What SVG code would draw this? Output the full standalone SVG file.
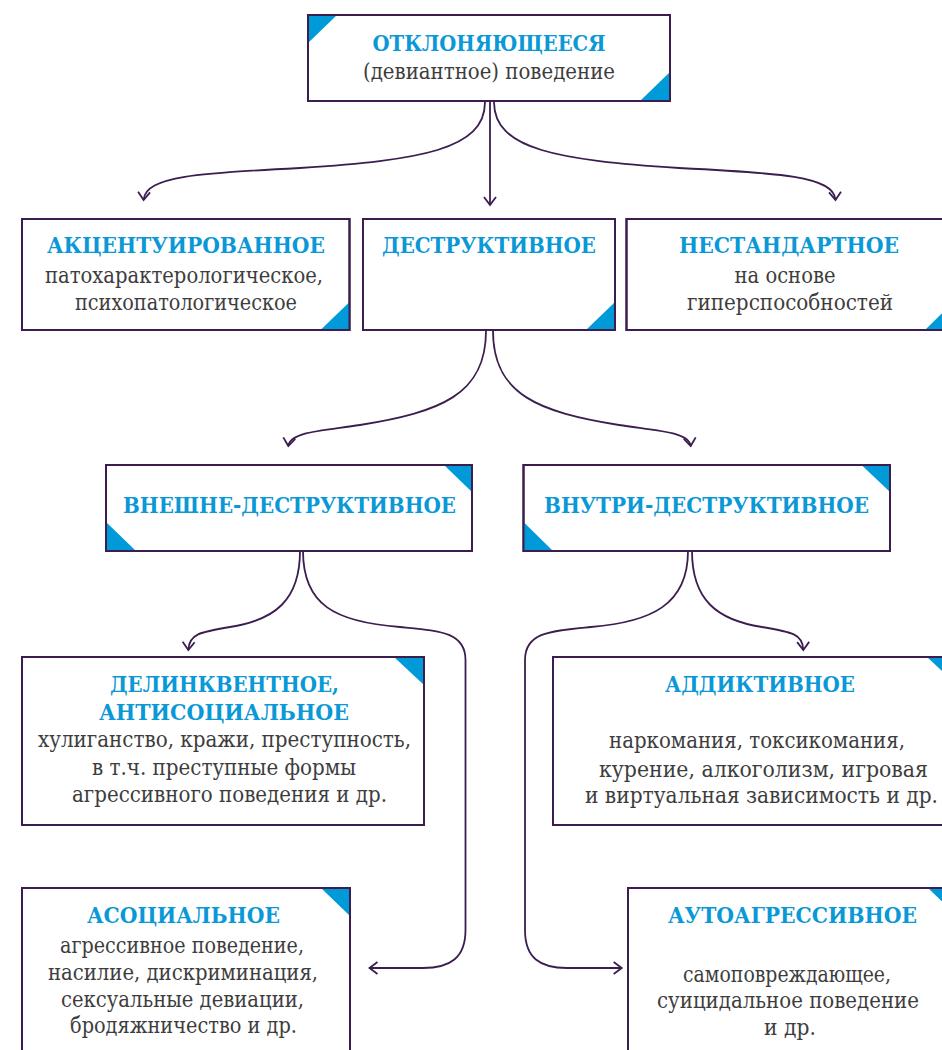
<svg xmlns="http://www.w3.org/2000/svg" width="942" height="1050" viewBox="0 0 942 1050">
<style>
.box{fill:#ffffff;stroke:#3b1e4f;stroke-width:2}
.tri{fill:#009ad8}
.h{font-family:'DejaVu Serif Condensed','DejaVu Serif','Liberation Serif',serif;font-stretch:condensed;font-weight:bold;font-size:21.5px;fill:#0a98d6;text-anchor:middle}
.t{font-family:'DejaVu Serif Condensed','DejaVu Serif','Liberation Serif',serif;font-stretch:condensed;font-size:22.5px;fill:#3d3d3d;text-anchor:middle}
.c{fill:none;stroke:#3b1e4f;stroke-width:1.8}
</style>
<defs>
<marker id="ah" markerUnits="userSpaceOnUse" viewBox="0 0 12 14" markerWidth="12" markerHeight="14" refX="9.5" refY="7" orient="auto">
<path d="M1.5,1 L9.5,7 L1.5,13" fill="none" stroke="#3b1e4f" stroke-width="1.8"/>
</marker>
</defs>
<rect x="0" y="0" width="942" height="1050" fill="#ffffff"/>

<g id="connectors">
<path class="c" marker-end="url(#ah)" d="M485,102 C485,150 420,160 300,168 C200,173 145,176 143.6,200"/>
<path class="c" marker-end="url(#ah)" d="M490,102 L490,205"/>
<path class="c" marker-end="url(#ah)" d="M494,102 C494,150 559,160 679,168 C779,173 834,176 835.5,200"/>
<path class="c" marker-end="url(#ah)" d="M486,331 C486,395 440,412 360,425 C320,431 290,432 288.3,446"/>
<path class="c" marker-end="url(#ah)" d="M493,331 C493,395 539,412 619,425 C659,431 689,432 690.7,446"/>
<path class="c" marker-end="url(#ah)" d="M300,551 C300,600 275,620 230,627 C200,632 189,634 188.3,650"/>
<path class="c" marker-end="url(#ah)" d="M303,551 C303,605 335,622 400,627 C440,631 465.5,632 465.5,660 L465.5,930 C465.5,958 450,968 423,968 L369.5,968"/>
<path class="c" marker-end="url(#ah)" d="M692,551 C692,600 717,620 762,627 C792,632 803,634 803.3,650"/>
<path class="c" marker-end="url(#ah)" d="M688,551 C688,605 651,622 591,627 C551,631 525,632 525,660 L525,930 C525,958 540,968 567,968 L621.7,968"/>
</g>

<g id="node-deviant">
<rect class="box" x="308" y="15" width="362" height="86"/>
<polygon class="tri" points="308,15 337,15 308,43"/>
<polygon class="tri" points="670,72 670,101 640,101"/>
<rect x="308" y="15" width="362" height="86" fill="none" stroke="#3b1e4f" stroke-width="2"/>
<text class="h" x="489" y="51" textLength="233" lengthAdjust="spacingAndGlyphs">ОТКЛОНЯЮЩЕЕСЯ</text>
<text class="t" x="489" y="79" textLength="252" lengthAdjust="spacingAndGlyphs">(девиантное) поведение</text>
</g>

<g id="node-accent">
<rect class="box" x="22" y="219" width="327.5" height="111"/>
<polygon class="tri" points="349.5,302 349.5,330 320.5,330"/>
<rect x="22" y="219" width="327.5" height="111" fill="none" stroke="#3b1e4f" stroke-width="2"/>
<text class="h" x="186" y="253" textLength="278" lengthAdjust="spacingAndGlyphs">АКЦЕНТУИРОВАННОЕ</text>
<text class="t" x="184" y="283" textLength="278" lengthAdjust="spacingAndGlyphs">патохарактерологическое,</text>
<text class="t" x="186" y="310" textLength="222" lengthAdjust="spacingAndGlyphs">психопатологическое</text>
</g>

<g id="node-destr">
<rect class="box" x="363" y="219" width="252" height="111"/>
<polygon class="tri" points="615,302 615,330 586,330"/>
<rect x="363" y="219" width="252" height="111" fill="none" stroke="#3b1e4f" stroke-width="2"/>
<text class="h" x="489" y="253" textLength="214" lengthAdjust="spacingAndGlyphs">ДЕСТРУКТИВНОЕ</text>
</g>

<g id="node-nonstd">
<rect class="box" x="626.5" y="219" width="327" height="111"/>
<polygon class="tri" points="953.5,302 953.5,330 925,330"/>
<rect x="626.5" y="219" width="327" height="111" fill="none" stroke="#3b1e4f" stroke-width="2"/>
<text class="h" x="789" y="253" textLength="220" lengthAdjust="spacingAndGlyphs">НЕСТАНДАРТНОЕ</text>
<text class="t" x="785" y="283" textLength="101" lengthAdjust="spacingAndGlyphs">на основе</text>
<text class="t" x="790" y="310" textLength="206" lengthAdjust="spacingAndGlyphs">гиперспособностей</text>
</g>

<g id="node-ext">
<rect class="box" x="106" y="465" width="366" height="86"/>
<polygon class="tri" points="444,465 472,465 472,492"/>
<polygon class="tri" points="106,522 106,551 136,551"/>
<rect x="106" y="465" width="366" height="86" fill="none" stroke="#3b1e4f" stroke-width="2"/>
<text class="h" x="289.5" y="513" textLength="333" lengthAdjust="spacingAndGlyphs">ВНЕШНЕ-ДЕСТРУКТИВНОЕ</text>
</g>

<g id="node-int">
<rect class="box" x="523.5" y="465" width="366.5" height="86"/>
<polygon class="tri" points="861.5,465 890,465 890,492"/>
<polygon class="tri" points="523.5,522 523.5,551 553,551"/>
<rect x="523.5" y="465" width="366.5" height="86" fill="none" stroke="#3b1e4f" stroke-width="2"/>
<text class="h" x="706.5" y="513" textLength="325" lengthAdjust="spacingAndGlyphs">ВНУТРИ-ДЕСТРУКТИВНОЕ</text>
</g>

<g id="node-delinq">
<rect class="box" x="22" y="657" width="402" height="168"/>
<polygon class="tri" points="394,657 424,657 424,685"/>
<rect x="22" y="657" width="402" height="168" fill="none" stroke="#3b1e4f" stroke-width="2"/>
<text class="h" x="224.5" y="692" textLength="229" lengthAdjust="spacingAndGlyphs">ДЕЛИНКВЕНТНОЕ,</text>
<text class="h" x="224" y="720" textLength="250" lengthAdjust="spacingAndGlyphs">АНТИСОЦИАЛЬНОЕ</text>
<text class="t" x="224.5" y="747" textLength="373" lengthAdjust="spacingAndGlyphs">хулиганство, кражи, преступность,</text>
<text class="t" x="224" y="775" textLength="264" lengthAdjust="spacingAndGlyphs">в т.ч. преступные формы</text>
<text class="t" x="229.5" y="802" textLength="315" lengthAdjust="spacingAndGlyphs">агрессивного поведения и др.</text>
</g>

<g id="node-addict">
<rect class="box" x="553" y="657" width="404" height="168"/>
<polygon class="tri" points="927,657 957,657 957,685"/>
<rect x="553" y="657" width="404" height="168" fill="none" stroke="#3b1e4f" stroke-width="2"/>
<text class="h" x="760" y="692" textLength="190" lengthAdjust="spacingAndGlyphs">АДДИКТИВНОЕ</text>
<text class="t" x="757" y="748" textLength="296" lengthAdjust="spacingAndGlyphs">наркомания, токсикомания,</text>
<text class="t" x="763.5" y="777" textLength="329" lengthAdjust="spacingAndGlyphs">курение, алкоголизм, игровая</text>
<text class="t" x="761.5" y="803" textLength="353" lengthAdjust="spacingAndGlyphs">и виртуальная зависимость и др.</text>
</g>

<g id="node-asocial">
<rect class="box" x="22" y="888" width="328" height="180"/>
<polygon class="tri" points="321,888 350,888 350,916"/>
<rect x="22" y="888" width="328" height="180" fill="none" stroke="#3b1e4f" stroke-width="2"/>
<text class="h" x="183.5" y="923" textLength="193" lengthAdjust="spacingAndGlyphs">АСОЦИАЛЬНОЕ</text>
<text class="t" x="182" y="953" textLength="244" lengthAdjust="spacingAndGlyphs">агрессивное поведение,</text>
<text class="t" x="183" y="980" textLength="270" lengthAdjust="spacingAndGlyphs">насилие, дискриминация,</text>
<text class="t" x="182.5" y="1007" textLength="243" lengthAdjust="spacingAndGlyphs">сексуальные девиации,</text>
<text class="t" x="183.5" y="1033" textLength="227" lengthAdjust="spacingAndGlyphs">бродяжничество и др.</text>
</g>

<g id="node-autoaggr">
<rect class="box" x="628" y="888" width="329" height="180"/>
<polygon class="tri" points="928,888 957,888 957,916"/>
<rect x="628" y="888" width="329" height="180" fill="none" stroke="#3b1e4f" stroke-width="2"/>
<text class="h" x="792.5" y="923" textLength="249" lengthAdjust="spacingAndGlyphs">АУТОАГРЕССИВНОЕ</text>
<text class="t" x="787" y="982" textLength="208" lengthAdjust="spacingAndGlyphs">самоповреждающее,</text>
<text class="t" x="788" y="1008" textLength="262" lengthAdjust="spacingAndGlyphs">суицидальное поведение</text>
<text class="t" x="790" y="1035">и др.</text>
</g>
</svg>
